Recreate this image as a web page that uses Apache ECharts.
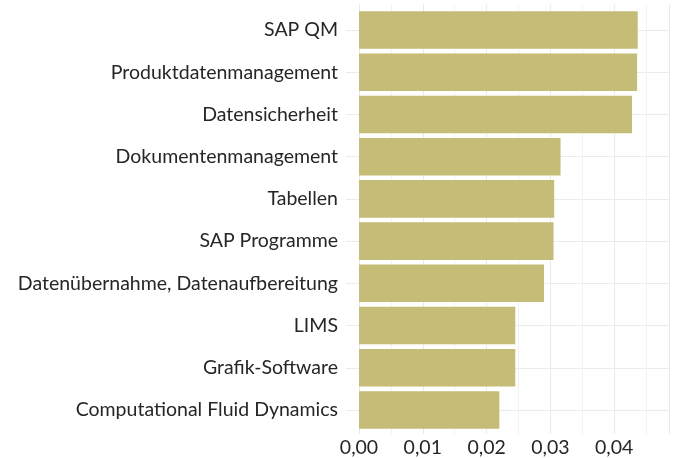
<!DOCTYPE html>
<html>
<head>
<meta charset="utf-8">
<script src="https://cdn.jsdelivr.net/npm/echarts@6/dist/echarts.min.js"></script>
<style>
  html, body { margin: 0; padding: 0; background: #fff; }
  #chart { width: 676px; height: 458px; }
</style>
</head>
<body>
<div id="chart"></div>
<script>
// categories from top to bottom
var categories = [
  "SAP QM",
  "Produktdatenmanagement",
  "Datensicherheit",
  "Dokumentenmanagement",
  "Tabellen",
  "SAP Programme",
  "Datenübernahme, Datenaufbereitung",
  "LIMS",
  "Grafik-Software",
  "Computational Fluid Dynamics"
];
var values = [0.0437, 0.0436, 0.0428, 0.0316, 0.0306, 0.0305, 0.0290, 0.0245, 0.0245, 0.0220];
var xMin = 0;
var xMax = 0.0486;

var font = "Lato";
var chart = echarts.init(document.getElementById("chart"));

chart.setOption({
  animation: false,
  grid: [
    // labels + horizontal gridlines (gridlines at category centres)
    { left: 346, right: 7, top: 30, bottom: 48 },
    // bars
    { left: 359, right: 7, top: 8.9, bottom: 26.9 },
    // vertical gridlines + x labels
    { left: 359, right: 7, top: 4.7, bottom: 22.7 }
  ],
  xAxis: [
    { gridIndex: 0, type: "value", show: false, min: 0, max: 1 },
    { gridIndex: 1, type: "value", min: xMin, max: xMax, show: false },
    {
      gridIndex: 2, type: "value", min: xMin, max: xMax, interval: 0.005,
      axisLine: { show: false }, axisTick: { show: false },
      axisLabel: {
        margin: 4, fontFamily: font, fontSize: 19.5, color: "#262626",
        formatter: function (v) {
          var k = Math.round(v * 1000);
          if (k % 10 !== 0) return "";
          return (v).toFixed(2).replace(".", ",");
        }
      },
      splitLine: { show: true, lineStyle: { color: ["#e9e9e9", "#f2f2f2"], width: 1 } }
    }
  ],
  yAxis: [
    {
      gridIndex: 0, type: "category", data: categories, inverse: true, boundaryGap: false,
      axisLine: { show: false }, axisTick: { show: false },
      axisLabel: { margin: 8, fontFamily: font, fontSize: 19.5, color: "#262626", interval: 0 },
      splitLine: { show: true, interval: 0, lineStyle: { color: "#ebebeb", width: 1 } }
    },
    { gridIndex: 1, type: "category", data: categories, inverse: true, show: false },
    { gridIndex: 2, type: "value", show: false }
  ],
  series: [
    {
      type: "bar",
      xAxisIndex: 1,
      yAxisIndex: 1,
      data: values,
      barCategoryGap: "11%",
      itemStyle: { color: "#c5bd77" },
      z: 5
    }
  ]
});
</script>
</body>
</html>
